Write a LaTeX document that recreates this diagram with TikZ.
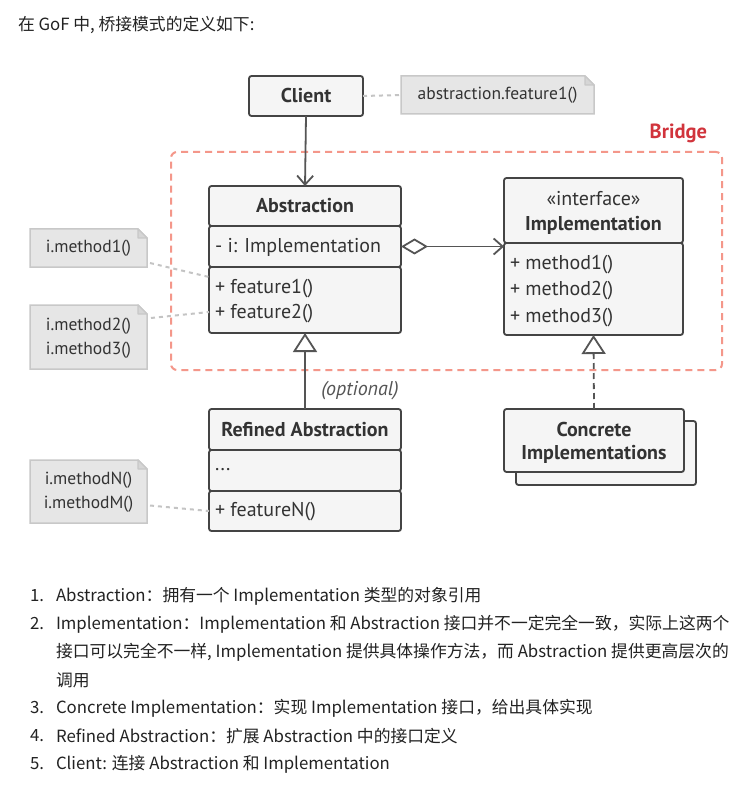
\documentclass[tikz,border=0pt]{standalone}
\usepackage{fontspec}
\setmainfont{PT Sans}
\newfontfamily\cjk{Noto Sans CJK SC}
\usetikzlibrary{arrows.meta,fit,calc}
\definecolor{boxline}{HTML}{444444}
\definecolor{boxfill}{HTML}{F5F5F5}
\definecolor{notefill}{HTML}{E6E6E6}
\definecolor{foldfill}{HTML}{D6D6D6}
\definecolor{noteline}{HTML}{C8C8C8}
\definecolor{txt}{HTML}{333333}
\definecolor{conncol}{HTML}{555555}
\definecolor{dotcol}{HTML}{C4C4C4}
\definecolor{bridgered}{HTML}{F4978A}
\definecolor{bridgetext}{HTML}{D1343C}
\definecolor{listtxt}{HTML}{222222}
\tikzset{
  comp/.style={draw=boxline, fill=boxfill, line width=1.8pt, rounded corners=2.5pt, inner sep=0pt},
  ttl/.style={font=\fontsize{20}{22}\selectfont\bfseries, text=txt},
  mem/.style={font=\fontsize{20}{22}\selectfont, text=txt, anchor=west},
  notebg/.style={draw=none, inner sep=0pt},
  notetxt/.style={font=\fontsize{17.5}{19}\selectfont, text=txt},
  conn/.style={draw=conncol, line width=1.8pt},
  dots/.style={draw=dotcol, line width=2pt, dash pattern=on 4pt off 4pt},
  bridgebox/.style={draw=bridgered, dash pattern=on 7pt off 5pt, line width=2pt, rounded corners=6pt, inner sep=0pt},
  listline/.style={font=\cjk\fontsize{16.8}{18}\selectfont, text=listtxt, anchor=west, inner sep=0pt},
  notepath/.style={draw=noteline, fill=notefill, line width=1.5pt},
  foldpath/.style={draw=noteline, fill=foldfill, line width=1.2pt, line join=round}
}
\newcommand{\notedraw}[1]{%
  \path[notepath] (#1.north west) -- ($(#1.north east)+(-9,0)$) -- ($(#1.north east)+(0,9)$) -- (#1.south east) -- (#1.south west) -- cycle;
  \path[foldpath] ($(#1.north east)+(-9,0)$) -- ($(#1.north east)+(-9,9)$) -- ($(#1.north east)+(0,9)$) -- cycle;}
\begin{document}
\begin{tikzpicture}[x=1pt,y=-1pt, every node/.style={inner sep=0pt, outer sep=0pt}]
\useasboundingbox[fill=white] (0,0) rectangle (748,799);

% header text
\node[listline] (head) at (18,25) {在 GoF 中, 桥接模式的定义如下:};

% Bridge region
\node[bridgebox, fit={(171,152) (722,370)}] (bridge) {};
\node[font=\fontsize{20.5}{22}\selectfont\bfseries, text=bridgetext, anchor=east] (bridgeL) at (707,133) {Bridge};

% Client
\node[comp, fit={(249,76) (363,116)}] (client) {};
\node[ttl] (clientT) at (client.center) {Client};
\node[notebg, fit={(401,76) (594,114)}] (cnote) {};
\notedraw{cnote}
\node[notetxt] (cnotet) at (cnote.center) {abstraction.feature1()};

% Abstraction
\node[comp, fit={(209,186) (401,226)}] (absH) {};
\node[ttl] (absT) at (absH.center) {Abstraction};
\node[comp, fit={(209,226) (401,267)}] (absA) {};
\node[comp, fit={(209,267) (401,333)}] (absM) {};
\node[mem] (absA1) at (215,247) {- i: Implementation};
\node[mem] (absM1) at (215,289) {+ feature1()};
\node[mem] (absM2) at (215,314) {+ feature2()};

% Implementation
\node[comp, fit={(504,178) (683,243)}] (implH) {};
\node[font=\fontsize{20}{22}\selectfont, text=txt] (implS) at (593.5,199) {«interface»};
\node[ttl] (implT) at (593.5,225) {Implementation};
\node[comp, fit={(504,243) (683,335)}] (implM) {};
\node[mem] (implM1) at (510,265) {+ method1()};
\node[mem] (implM2) at (510,291) {+ method2()};
\node[mem] (implM3) at (510,318) {+ method3()};

% Refined Abstraction
\node[comp, fit={(209,409) (401,450)}] (refH) {};
\node[ttl] (refT) at (refH.center) {Refined Abstraction};
\node[comp, fit={(209,450) (401,491)}] (refA) {};
\node[comp, fit={(209,491) (401,531)}] (refM) {};
\node[mem] (refA1) at (215,470) {...};
\node[mem] (refM1) at (215,512) {+ featureN()};

% Concrete Implementations
\node[comp, fit={(516,421) (696,485)}] (cib) {};
\node[comp, fit={(504,409) (684,472)}] (ci) {};
\node[ttl] (ciT1) at (594,429) {Concrete};
\node[ttl] (ciT2) at (594,454) {Implementations};

% notes left
\node[notebg, fit={(30,229) (147,267)}] (n1) {};
\notedraw{n1}
\node[notetxt] (n1t) at (n1.center) {i.method1()};
\node[notebg, fit={(30,305) (147,369)}] (n2) {};
\notedraw{n2}
\node[notetxt] (n2t1) at (88.5,326) {i.method2()};
\node[notetxt] (n2t2) at (88.5,350) {i.method3()};
\node[notebg, fit={(30,460) (147,523)}] (n3) {};
\notedraw{n3}
\node[notetxt] (n3t1) at (88.5,480) {i.methodN()};
\node[notetxt] (n3t2) at (88.5,504) {i.methodM()};

% connectors
\draw[dots] (client.east) -- (cnote.west);
\draw[dots] ($(n1.south east)+(3,-4)$) -- ($(absM.north west)+(0,10)$);
\draw[dots] ($(n2.north east)+(4,13)$) -- ($(absM.north west)+(0,45)$);
\draw[dots] ($(n3.east)+(3,14)$) -- (refM.west);
\draw[conn, -{Straight Barb[length=9pt,width=16pt]}] (client.south) -- (absH.north);
\draw[conn, {Diamond[open,length=27pt,width=16pt]}-{Straight Barb[length=9pt,width=16pt]}] (absA.east) -- (implM.west |- absA.east);
\draw[conn, -{Triangle[open,length=19pt,width=24pt]}] (refH.north) -- (absM.south);
\draw[conn, dash pattern=on 6pt off 4pt, -{Triangle[open,length=19pt,width=24pt]}] (ci.north) -- (implM.south);
\node[font=\fontsize{20}{22}\selectfont\itshape, text=conncol] (opt) at (360,391) {(optional)};

% list
\node[listline] (num1) at (30,596) {1.};
\node[listline] (l1) at (56,596) {Abstraction：拥有一个 Implementation 类型的对象引用};
\node[listline] (num2) at (30,624) {2.};
\node[listline] (l2a) at (56,624) {Implementation：Implementation 和 Abstraction 接口并不一定完全一致，实际上这两个};
\node[listline] (l2b) at (56,652) {接口可以完全不一样, Implementation 提供具体操作方法，而 Abstraction 提供更高层次的};
\node[listline] (l2c) at (56,680) {调用};
\node[listline] (num3) at (30,708) {3.};
\node[listline] (l3) at (56,708) {Concrete Implementation：实现 Implementation 接口，给出具体实现};
\node[listline] (num4) at (30,736) {4.};
\node[listline] (l4) at (56,736) {Refined Abstraction：扩展 Abstraction 中的接口定义};
\node[listline] (num5) at (30,764) {5.};
\node[listline] (l5) at (56,764) {Client: 连接 Abstraction 和 Implementation};
\end{tikzpicture}
\end{document}
